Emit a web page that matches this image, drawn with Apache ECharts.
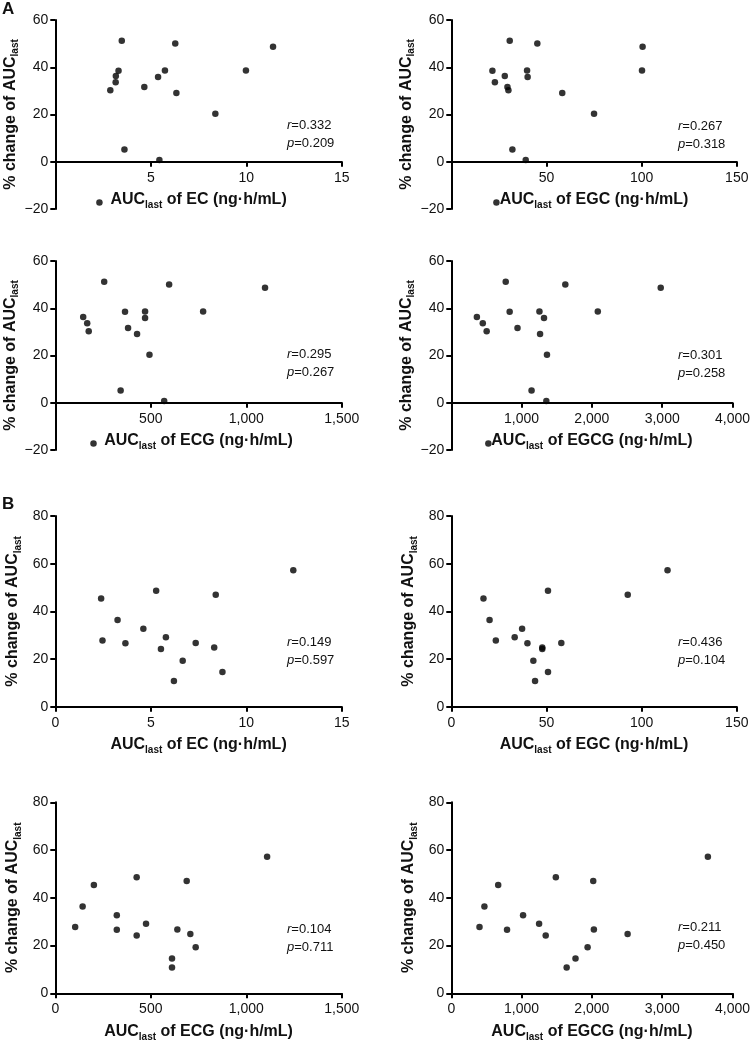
<!DOCTYPE html>
<html><head><meta charset="utf-8">
<script src="https://cdn.jsdelivr.net/npm/echarts@6/dist/echarts.min.js"></script>
<style>html,body{margin:0;padding:0;background:#fff}#c{width:753px;height:1043px}</style>
</head><body><div id="c"></div>
<script>
// Panel A (16 subjects): % change of AUClast and AUClast of each catechin
const yA = [51.2, 50.1, 48.7, 38.6, 38.5, 38.6, 36.3, 35.9, 33.6, 31.6, 30.3, 29.1, 20.3, 5.2, 0.7, -17.2];
const xA_EC = [3.48, 6.28, 11.4, 9.98, 3.31, 5.74, 3.17, 5.38, 3.16, 4.66, 2.88, 6.34, 8.38, 3.62, 5.45, 2.31];
const xA_EGC = [30.7, 45.2, 100.5, 100.2, 21.6, 39.8, 28.1, 40.1, 22.9, 29.5, 30.0, 58.3, 75.0, 32.1, 39.1, 23.7];
const xA_ECG = [256, 596, 1098, 774, 365, 470, 146, 470, 167, 381, 175, 428, 493, 342, 570, 200];
const xA_EGCG = [774, 1622, 2979, 2084, 830, 1254, 364, 1319, 448, 942, 503, 1263, 1361, 1142, 1352, 527];
// Panel B (15 subjects)
const yB = [57.2, 48.6, 47.0, 45.4, 36.4, 32.7, 29.1, 27.8, 26.7, 26.6, 24.8, 24.2, 19.3, 14.6, 10.8];
const xB_EC = [12.46, 5.28, 8.40, 2.40, 3.26, 4.61, 5.79, 2.47, 7.35, 3.67, 8.32, 5.53, 6.67, 8.75, 6.21];
const xB_EGC = [113.6, 50.8, 92.7, 16.9, 20.1, 37.2, 33.3, 23.4, 57.8, 40.0, 47.8, 47.8, 43.1, 50.8, 44.0];
const xB_ECG = [1109, 426, 688, 202, 143, 322, 475, 104, 639, 322, 707, 426, 735, 611, 611];
const xB_EGCG = [3650, 1487, 2019, 667, 471, 1021, 1249, 401, 2028, 793, 2508, 1343, 1939, 1767, 1641];

const compounds = ['EC', 'EGC', 'ECG', 'EGCG'];
const xMax = [15, 150, 1500, 4000];
const xStep = [5, 50, 500, 1000];
const rVals = ['0.332', '0.267', '0.295', '0.301', '0.149', '0.436', '0.104', '0.211'];
const pVals = ['0.209', '0.318', '0.267', '0.258', '0.597', '0.104', '0.711', '0.450'];
const yAxisA = {min: -20, max: 60, step: 20};
const yAxisB = {min: 0, max: 80, step: 20};

const FONT = "'Liberation Sans', Arial, Helvetica, sans-serif";
const INK = '#111';
const panels = [
  {x: xA_EC, y: yA, c: 0, ya: yAxisA}, {x: xA_EGC, y: yA, c: 1, ya: yAxisA},
  {x: xA_ECG, y: yA, c: 2, ya: yAxisA}, {x: xA_EGCG, y: yA, c: 3, ya: yAxisA},
  {x: xB_EC, y: yB, c: 0, ya: yAxisB}, {x: xB_EGC, y: yB, c: 1, ya: yAxisB},
  {x: xB_ECG, y: yB, c: 2, ya: yAxisB}, {x: xB_EGCG, y: yB, c: 3, ya: yAxisB}
];
const colLeft = [55.3, 451.3], colWidth = [286.5, 285.5];
const rowTop = [20, 261, 516, 802.3], rowHeight = [189, 189, 190.7, 191];
const noteTop = [116, 117, 345, 346, 633, 633, 920, 918];
const noteLeft = [287, 678];

function addCommas(v) { return String(v).replace(/\B(?=(\d{3})+(?!\d))/g, ','); }
const subRich = {
  m: {fontSize: 16, fontWeight: 'bold', fontFamily: FONT, color: INK},
  s: {fontSize: 10, fontWeight: 'bold', fontFamily: FONT, color: INK, verticalAlign: 'bottom', padding: [11, 0, 0, 0]}
};
const axisLineStyle = {color: '#000', width: 2};

const grid = [], xAxis = [], yAxis = [], series = [], title = [];
panels.forEach((p, i) => {
  const col = i % 2, row = Math.floor(i / 2);
  const h = rowHeight[row];
  grid.push({left: colLeft[col], top: rowTop[row], width: colWidth[col], height: h, containLabel: false});
  // x axis sits at y = 0: shift it up from the grid bottom by the share of the range below zero
  const zeroShift = -h * (0 - p.ya.min) / (p.ya.max - p.ya.min);
  xAxis.push({
    type: 'value', gridIndex: i, min: 0, max: xMax[p.c], interval: xStep[p.c],
    position: 'bottom', offset: zeroShift,
    axisLine: {show: true, onZero: false, lineStyle: axisLineStyle},
    axisTick: {show: true, length: 5, lineStyle: axisLineStyle},
    splitLine: {show: false},
    axisLabel: {fontSize: 14, color: INK, fontFamily: FONT, margin: 9, showMinLabel: p.ya.min === 0,
      formatter: v => addCommas(v)},
    name: '{m|AUC}{s|last}{m| of ' + compounds[p.c] + ' (ng·h/mL)}',
    nameLocation: 'middle', nameGap: 27.5,
    nameTextStyle: {rich: subRich}
  });
  yAxis.push({
    type: 'value', gridIndex: i, min: p.ya.min, max: p.ya.max, interval: p.ya.step,
    axisLine: {show: true, onZero: false, lineStyle: axisLineStyle},
    axisTick: {show: true, length: 5, lineStyle: axisLineStyle},
    splitLine: {show: false},
    axisLabel: {fontSize: 14, color: INK, fontFamily: FONT, margin: 7,
      formatter: v => (v < 0 ? '\u2212' + Math.abs(v) : String(v))},
    name: '{m|% change of AUC}{s|last}',
    nameLocation: 'middle', nameRotate: 90, nameGap: 32,
    nameTextStyle: {rich: subRich}
  });
  series.push({
    type: 'scatter', xAxisIndex: i, yAxisIndex: i, symbol: 'circle', symbolSize: 6.5,
    itemStyle: {color: '#000'}, silent: true,
    data: p.x.map((xv, k) => [xv, p.y[k]])
  });
  title.push({
    left: noteLeft[col], top: noteTop[i], padding: 0,
    text: '{i|r}=' + rVals[i] + '\n{i|p}=' + pVals[i],
    textStyle: {fontSize: 13, fontWeight: 'normal', color: INK, fontFamily: FONT, lineHeight: 18,
      rich: {i: {fontStyle: 'italic', fontSize: 13, color: INK, fontFamily: FONT, lineHeight: 18}}}
  });
});
title.push({left: 2, top: 1, padding: 0, text: 'A', textStyle: {fontSize: 17, fontWeight: 'bold', color: INK, fontFamily: FONT}});
title.push({left: 2, top: 496, padding: 0, text: 'B', textStyle: {fontSize: 17, fontWeight: 'bold', color: INK, fontFamily: FONT}});

const chart = echarts.init(document.getElementById('c'), null, {renderer: 'canvas'});
chart.setOption({animation: false, backgroundColor: '#fff', title, grid, xAxis, yAxis, series});
</script>
</body></html>
